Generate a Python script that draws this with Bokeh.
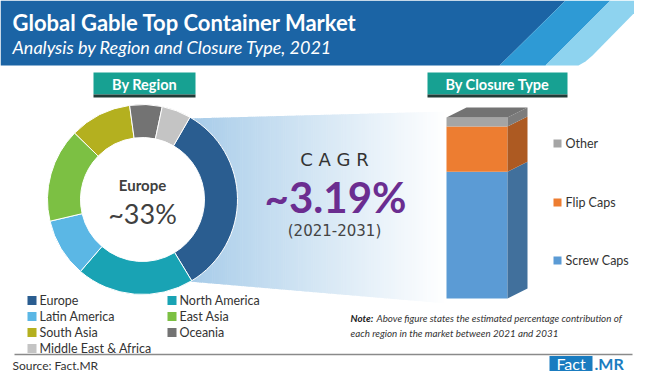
import numpy as np
from bokeh.plotting import figure
from bokeh.models import Range1d
from bokeh.embed import file_html
from bokeh.resources import INLINE
from bokeh.core.properties import value

# ---------------- data ----------------
title = "Global Gable Top Container Market"
subtitle = "Analysis by Region and Closure Type, 2021"
regions = ["Europe", "North America", "Latin America", "East Asia",
           "South Asia", "Oceania", "Middle East & Africa"]
region_share = [33, 20, 10, 16, 10.5, 5.5, 5]
region_colors = ["#2a5d90", "#19a3b4", "#5bb7e5", "#7cc043",
                 "#b4b01f", "#737373", "#c4c4c4"]
highlight_name = "Europe"
highlight_label = "~33%"
closure_types = ["Screw Caps", "Flip Caps", "Other"]
closure_share = [70, 25, 5]
closure_front = ["#5b9bd5", "#ed7d31", "#a5a5a5"]
closure_side = ["#41709c", "#ad5a22", "#7c7c7c"]
cagr_word = "C A G R"
cagr_label = "~3.19%"
cagr_period = "(2021-2031)"
note_head = "Note:"
note_line1 = "Above figure states the estimated percentage contribution of"
note_line2 = "each region in the market between 2021 and 2031"
source = "Source: Fact.MR"

FONT = "Lato"


def Y(v):
    return 390 - np.asarray(v, dtype=float)


p = figure(width=634, height=374, x_range=Range1d(0, 634), y_range=Range1d(16, 390),
           output_backend="svg", toolbar_location=None, min_border=0,
           x_axis_location=None, y_axis_location=None)
p.grid.visible = False
p.outline_line_color = None
p.background_fill_color = "white"
p.border_fill_color = "white"

# ---------------- header ----------------
p.patch([0, 565, 499, 0], list(Y([0, 0, 65, 65])), fill_color="#1b64a5", line_color=None)
p.patch([565, 610, 545, 499], list(Y([0, 0, 65, 65])), fill_color="#2e9ad5", line_color=None)
p.patch([610, 646, 592, 585, 578, 545], list(Y([0, 0, 55, 61, 65, 65])),
        fill_color="#8ed3ef", line_color=None)
p.text(x=[12], y=list(Y([22])), text=[title], text_color="white",
       text_font=value(FONT), text_font_style="bold", text_font_size="22px",
       text_baseline="middle", text_align="left")
p.text(x=[12], y=list(Y([46])), text=[subtitle], text_color="white",
       text_font=value(FONT), text_font_style="italic", text_font_size="18px",
       text_baseline="middle", text_align="left")

# ---------------- section boxes ----------------
for (l, r, lab) in [(93, 195, "By Region"), (427, 567, "By Closure Type")]:
    p.quad(left=[l], right=[r], top=list(Y([72])), bottom=list(Y([94])),
           fill_color="#17a192", line_color=None)
    p.quad(left=[l], right=[r], top=list(Y([94])), bottom=list(Y([97])),
           fill_color="#223b37", line_color=None)
    p.text(x=[(l + r) / 2], y=list(Y([84])), text=[lab], text_color="white",
           text_font=value(FONT), text_font_style="bold", text_font_size="14.5px",
           text_baseline="middle", text_align="center")

# ---------------- funnel gradient ----------------
fx0, fx1 = 188.0, 446.0
n = 120
edges = np.linspace(fx0, fx1, n + 1)
c0 = np.array([0xa4, 0xca, 0xe8], dtype=float)
c1 = np.array([0xff, 0xff, 0xff], dtype=float)
xs, ys, cols = [], [], []
for i in range(n):
    xl, xr = edges[i], min(edges[i + 1] + 0.6, fx1)
    tl, tr = (xl - fx0) / (fx1 - fx0), (xr - fx0) / (fx1 - fx0)
    ytl, ytr = 118 + (111 - 118) * tl, 118 + (111 - 118) * tr
    ybl, ybr = 281 + (303 - 281) * tl, 281 + (303 - 281) * tr
    xs.append([xl, xr, xr, xl])
    ys.append(list(Y([ytl, ytr, ybr, ybl])))
    tm = ((xl + xr) / 2 - fx0) / (fx1 - fx0)
    c = c0 + (c1 - c0) * tm ** 0.9
    cols.append("#%02x%02x%02x" % tuple(int(round(v)) for v in c))
p.patches(xs, ys, fill_color=cols, line_color=None)

# ---------------- donut ----------------
cx, cy = 142, 199
r_out, r_in = 95, 62
p.circle(x=[cx], y=list(Y([cy])), radius=r_in, fill_color="white", line_color=None)
vals = np.array(region_share, dtype=float)
frac = vals / vals.sum() * 360.0
cum = np.concatenate([[0], np.cumsum(frac)[:-1]])
start_cw = 30.0
a0 = np.radians(90 - (start_cw + cum))
a1 = np.radians(90 - (start_cw + cum + frac))
p.annular_wedge(x=[cx] * len(vals), y=list(Y([cy] * len(vals))),
                inner_radius=r_in, outer_radius=r_out,
                start_angle=list(a0), end_angle=list(a1), direction="clock",
                fill_color=region_colors, line_color="white", line_width=1)
p.text(x=[cx], y=list(Y([184])), text=[highlight_name], text_color="#404040",
       text_font=value(FONT), text_font_style="bold", text_font_size="15px",
       text_baseline="middle", text_align="center")
p.text(x=[cx], y=list(Y([213])), text=[highlight_label], text_color="#404040",
       text_font=value(FONT), text_font_size="27px",
       text_baseline="middle", text_align="center")

# ---------------- CAGR ----------------
p.text(x=[334], y=list(Y([159])), text=[cagr_word], text_color="#333333",
       text_font=value("DejaVu Sans"), text_font_size="18px",
       text_baseline="middle", text_align="center")
p.text(x=[335], y=list(Y([196])), text=[cagr_label], text_color="#6b2d90",
       text_font=value(FONT), text_font_style="bold", text_font_size="42px",
       text_baseline="middle", text_align="center")
p.text(x=[334], y=list(Y([230])), text=[cagr_period], text_color="#444444",
       text_font=value("DejaVu Sans"), text_font_size="15px",
       text_baseline="middle", text_align="center")

# ---------------- 3D stacked bar ----------------
bx0, bx1 = 446, 507
dx, dy = 20, 10
base = 298
total_h = 181.0
cs = np.array(closure_share, dtype=float)
hs = cs / cs.sum() * total_h
bots = base - np.concatenate([[0], np.cumsum(hs)[:-1]])
tops = bots - hs
p.quad(left=[bx0] * 3, right=[bx1] * 3, bottom=list(Y(bots)), top=list(Y(tops)),
       fill_color=closure_front, line_color=None)
sxs, sys_ = [], []
for b, t in zip(bots, tops):
    sxs.append([bx1, bx1 + dx, bx1 + dx, bx1])
    sys_.append(list(Y([b, b - dy, t - dy, t])))
p.patches(sxs, sys_, fill_color=closure_side, line_color=None)
top_y = tops[-1]
p.patch([bx0, bx0 + dx, bx1 + dx, bx1], list(Y([top_y, top_y - dy, top_y - dy, top_y])),
        fill_color="#737373", line_color=None)

# bar legend
leg_y = [260, 202, 143]
p.quad(left=[553] * 3, right=[561] * 3, top=list(Y(np.array(leg_y) - 4)),
       bottom=list(Y(np.array(leg_y) + 4)), fill_color=closure_front, line_color=None)
p.text(x=[565] * 3, y=list(Y(leg_y)), text=closure_types, text_color="#333333",
       text_font=value(FONT), text_font_size="12.5px",
       text_baseline="middle", text_align="left")

# ---------------- region legend ----------------
row_y = [300, 300, 316, 316, 332, 332, 348]
col_x = [27, 167, 27, 167, 27, 167, 27]
lx = np.array(col_x, dtype=float)
ly = np.array(row_y, dtype=float)
p.quad(left=list(lx), right=list(lx + 9), top=list(Y(ly - 4.5)), bottom=list(Y(ly + 4.5)),
       fill_color=region_colors, line_color=None)
p.text(x=list(lx + 12), y=list(Y(ly)), text=regions, text_color="#333333",
       text_font=value(FONT), text_font_size="12.5px",
       text_baseline="middle", text_align="left")

# ---------------- note ----------------
p.text(x=[350], y=list(Y([317])), text=[note_head], text_color="#222222",
       text_font=value(FONT), text_font_style="bold italic", text_font_size="9.8px",
       text_baseline="middle", text_align="left")
p.text(x=[376], y=list(Y([317])), text=[note_line1], text_color="#333333",
       text_font=value(FONT), text_font_style="italic", text_font_size="9.8px",
       text_baseline="middle", text_align="left")
p.text(x=[350], y=list(Y([332])), text=[note_line2], text_color="#333333",
       text_font=value(FONT), text_font_style="italic", text_font_size="9.8px",
       text_baseline="middle", text_align="left")

# ---------------- footer ----------------
p.segment(x0=[14], y0=list(Y([354])), x1=[632], y1=list(Y([354])),
          line_color="#8a8a8a", line_width=1.5)
p.text(x=[12], y=list(Y([365])), text=[source], text_color="#333333",
       text_font=value(FONT), text_font_size="12px",
       text_baseline="middle", text_align="left")
p.quad(left=[549], right=[592], top=list(Y([355.5])), bottom=list(Y([370.5])),
       fill_color="#1a7cc0", line_color=None)
p.text(x=[570.5], y=list(Y([362.5])), text=["Fact"], text_color="white",
       text_font=value(FONT), text_font_size="16px",
       text_baseline="middle", text_align="center")
p.text(x=[594], y=list(Y([362.5])), text=[".MR"], text_color="#1a7cc0",
       text_font=value(FONT), text_font_style="bold", text_font_size="16px",
       text_baseline="middle", text_align="left")

open("out.html", "w").write(file_html(p, INLINE))
